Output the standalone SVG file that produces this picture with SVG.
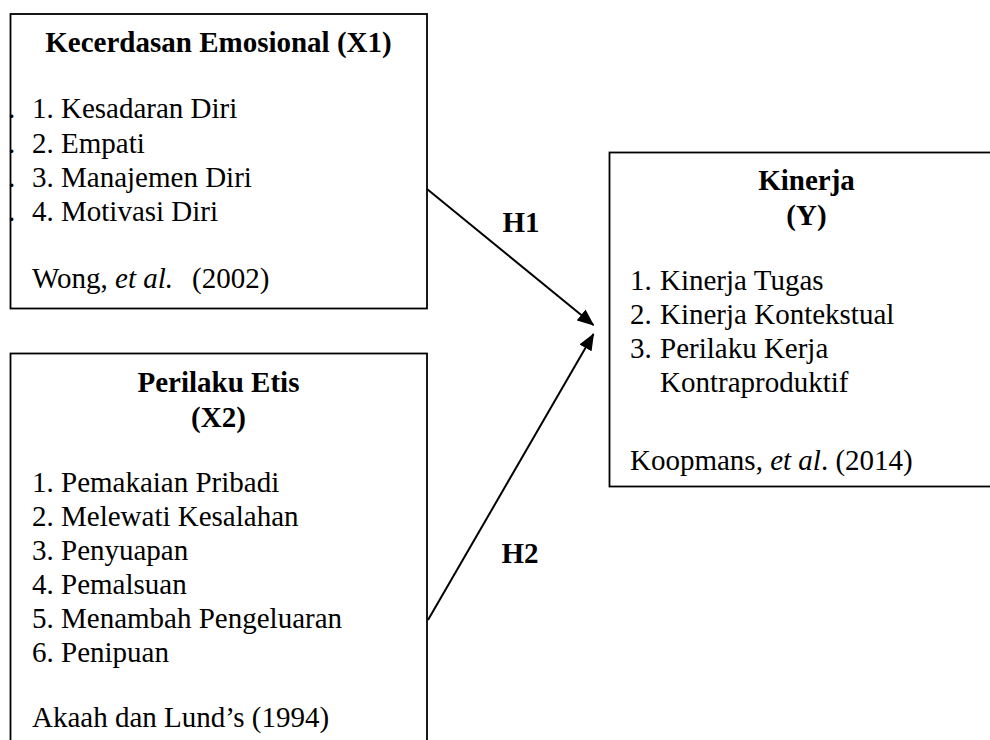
<svg xmlns="http://www.w3.org/2000/svg" width="990" height="740" viewBox="0 0 990 740">
<style>
text{font-family:"Liberation Serif","Times New Roman",serif;font-size:29px;fill:#000}
.b{font-weight:bold}
.c{text-anchor:middle}
.box{fill:#fff;stroke:#000;stroke-width:1.8}
.con{stroke:#000;stroke-width:2;fill:none}
</style>
<defs>
<marker id="ah" viewBox="0 0 17 14" refX="16" refY="7" markerWidth="17" markerHeight="14" markerUnits="userSpaceOnUse" orient="auto">
<path d="M0,0 L17,7 L0,14 z" fill="#000"/>
</marker>
</defs>
<rect width="990" height="740" fill="#fff"/>
<g id="x1">
<rect class="box" x="10.5" y="14" width="416.5" height="294.5"/>
<text class="b c" x="218.5" y="52">Kecerdasan Emosional (X1)</text>
<text x="8" y="118">.</text>
<text x="8" y="152.5">.</text>
<text x="8" y="186.5">.</text>
<text x="8" y="220.5">.</text>
<text x="32" y="118">1.</text><text x="61" y="118">Kesadaran Diri</text>
<text x="32" y="152.5">2.</text><text x="61" y="152.5">Empati</text>
<text x="32" y="186.5">3.</text><text x="61" y="186.5">Manajemen Diri</text>
<text x="32" y="220.5">4.</text><text x="61" y="220.5">Motivasi Diri</text>
<text x="32" y="288">Wong, <tspan font-style="italic">et al.</tspan><tspan x="192">(2002)</tspan></text>
</g>
<g id="x2">
<rect class="box" x="10.5" y="353.5" width="416.5" height="400"/>
<text class="b c" x="218.5" y="391.5">Perilaku Etis</text>
<text class="b c" x="218.5" y="426.5">(X2)</text>
<text x="32" y="491.5">1.</text><text x="61" y="491.5">Pemakaian Pribadi</text>
<text x="32" y="525.5">2.</text><text x="61" y="525.5">Melewati Kesalahan</text>
<text x="32" y="559.5">3.</text><text x="61" y="559.5">Penyuapan</text>
<text x="32" y="593.5">4.</text><text x="61" y="593.5">Pemalsuan</text>
<text x="32" y="627.5">5.</text><text x="61" y="627.5">Menambah Pengeluaran</text>
<text x="32" y="661.5">6.</text><text x="61" y="661.5">Penipuan</text>
<text x="32" y="727">Akaah dan Lund’s (1994)</text>
</g>
<g id="y">
<rect class="box" x="609.5" y="152.5" width="400" height="334" stroke-width="2.2"/>
<text class="b c" x="806.5" y="190">Kinerja</text>
<text class="b c" x="806.5" y="225">(Y)</text>
<text x="630" y="290">1.</text><text x="660" y="290">Kinerja Tugas</text>
<text x="630" y="324">2.</text><text x="660" y="324">Kinerja Kontekstual</text>
<text x="630" y="357.5">3.</text><text x="660" y="357.5">Perilaku Kerja</text>
<text x="660" y="391.5">Kontraproduktif</text>
<text x="630" y="470">Koopmans, <tspan font-style="italic">et al</tspan>. (2014)</text>
</g>
<g id="connectors">
<line class="con" x1="427" y1="189" x2="593.5" y2="325" marker-end="url(#ah)"/>
<line class="con" x1="428" y1="620" x2="593.5" y2="334" marker-end="url(#ah)"/>
<text class="b" x="502.5" y="231.5">H1</text>
<text class="b" x="501.5" y="563">H2</text>
</g>
</svg>
